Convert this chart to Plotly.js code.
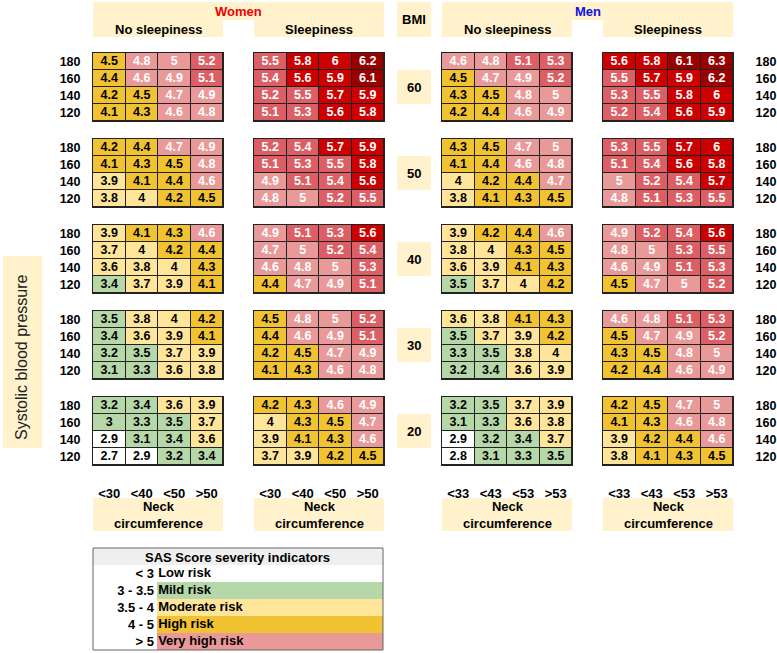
<!DOCTYPE html>
<html><head><meta charset="utf-8">
<script src="https://cdn.plot.ly/plotly-3.0.1.min.js"></script>
<style>html,body{margin:0;padding:0;background:#fff}#chart{width:777px;height:653px}</style>
</head><body><div id="chart"></div>
<script>
// ---------------- DATA ----------------
const bmiLevels = ['60','50','40','30','20'];
const sbpLevels = ['180','160','140','120'];          // rows, top to bottom
const neckWomen = ['<30','<40','<50','>50'];
const neckMen   = ['<33','<43','<53','>53'];

const womenNoSleepiness = [
 [[4.5,4.8,5,5.2],[4.4,4.6,4.9,5.1],[4.2,4.5,4.7,4.9],[4.1,4.3,4.6,4.8]],
 [[4.2,4.4,4.7,4.9],[4.1,4.3,4.5,4.8],[3.9,4.1,4.4,4.6],[3.8,4,4.2,4.5]],
 [[3.9,4.1,4.3,4.6],[3.7,4,4.2,4.4],[3.6,3.8,4,4.3],[3.4,3.7,3.9,4.1]],
 [[3.5,3.8,4,4.2],[3.4,3.6,3.9,4.1],[3.2,3.5,3.7,3.9],[3.1,3.3,3.6,3.8]],
 [[3.2,3.4,3.6,3.9],[3,3.3,3.5,3.7],[2.9,3.1,3.4,3.6],[2.7,2.9,3.2,3.4]]
];
const womenSleepiness = [
 [[5.5,5.8,6,6.2],[5.4,5.6,5.9,6.1],[5.2,5.5,5.7,5.9],[5.1,5.3,5.6,5.8]],
 [[5.2,5.4,5.7,5.9],[5.1,5.3,5.5,5.8],[4.9,5.1,5.4,5.6],[4.8,5,5.2,5.5]],
 [[4.9,5.1,5.3,5.6],[4.7,5,5.2,5.4],[4.6,4.8,5,5.3],[4.4,4.7,4.9,5.1]],
 [[4.5,4.8,5,5.2],[4.4,4.6,4.9,5.1],[4.2,4.5,4.7,4.9],[4.1,4.3,4.6,4.8]],
 [[4.2,4.3,4.6,4.9],[4,4.3,4.5,4.7],[3.9,4.1,4.3,4.6],[3.7,3.9,4.2,4.5]]
];
const menNoSleepiness = [
 [[4.6,4.8,5.1,5.3],[4.5,4.7,4.9,5.2],[4.3,4.5,4.8,5],[4.2,4.4,4.6,4.9]],
 [[4.3,4.5,4.7,5],[4.1,4.4,4.6,4.8],[4,4.2,4.4,4.7],[3.8,4.1,4.3,4.5]],
 [[3.9,4.2,4.4,4.6],[3.8,4,4.3,4.5],[3.6,3.9,4.1,4.3],[3.5,3.7,4,4.2]],
 [[3.6,3.8,4.1,4.3],[3.5,3.7,3.9,4.2],[3.3,3.5,3.8,4],[3.2,3.4,3.6,3.9]],
 [[3.2,3.5,3.7,3.9],[3.1,3.3,3.6,3.8],[2.9,3.2,3.4,3.7],[2.8,3.1,3.3,3.5]]
];
const menSleepiness = [
 [[5.6,5.8,6.1,6.3],[5.5,5.7,5.9,6.2],[5.3,5.5,5.8,6],[5.2,5.4,5.6,5.9]],
 [[5.3,5.5,5.7,6],[5.1,5.4,5.6,5.8],[5,5.2,5.4,5.7],[4.8,5.1,5.3,5.5]],
 [[4.9,5.2,5.4,5.6],[4.8,5,5.3,5.5],[4.6,4.9,5.1,5.3],[4.5,4.7,5,5.2]],
 [[4.6,4.8,5.1,5.3],[4.5,4.7,4.9,5.2],[4.3,4.5,4.8,5],[4.2,4.4,4.6,4.9]],
 [[4.2,4.5,4.7,5],[4.1,4.3,4.6,4.8],[3.9,4.2,4.4,4.6],[3.8,4.1,4.3,4.5]]
];

const riskRanges = ['< 3','3 - 3.5','3.5 - 4','4 - 5','> 5'];
const riskNames  = ['Low risk','Mild risk','Moderate risk','High risk','Very high risk'];
const riskLegendLevels = [0,1,2,3,4];

// ---------------- STYLE ----------------
const levelBounds = [2.95, 3.55, 4.05, 4.55, 5.05, 5.55, 6.05];
const levelColors = ['#ffffff','#b6d7a8','#ffe599','#f1c232','#ea9999','#dd5f66','#cc0000','#990000'];
const levelText   = ['#000','#000','#000','#000','#fff','#fff','#fff','#fff'];
const FONT = 'Liberation Sans, Arial, sans-serif';
const CREAM = '#fff2cc';
const W = 777, H = 653;
const gx = p => p / W, gy = p => 1 - p / H;
const colLeft = [93, 254, 442, 603], colW = 130;
const blockTop0 = 53, blockStep = 86, blockH = 68;

function level(v){ let i = 0; levelBounds.forEach(b => { if (v >= b) i++; }); return i; }
const nL = levelColors.length;
const colorscale = [];
levelColors.forEach((c, i) => { colorscale.push([i / nL, c]); colorscale.push([(i + 1) / nL, c]); });

const groups = [
  {data: womenNoSleepiness, neck: neckWomen},
  {data: womenSleepiness,   neck: neckWomen},
  {data: menNoSleepiness,   neck: neckMen},
  {data: menSleepiness,     neck: neckMen}
];
const sbpUp = sbpLevels.slice().reverse();

const traces = [];
const layout = {
  width: W, height: H, margin: {l:0, r:0, t:0, b:0},
  paper_bgcolor: '#fff', plot_bgcolor: '#222',
  showlegend: false, hovermode: false,
  font: {family: FONT, color: '#000'},
  shapes: [], annotations: []
};

groups.forEach((g, c) => {
  const xa = 'x' + (c === 0 ? '' : c + 1);
  layout['xaxis' + (c === 0 ? '' : c + 1)] = {
    domain: [gx(colLeft[c]), gx(colLeft[c] + colW)],
    anchor: c < 3 ? 'y5' : 'y10',
    type: 'category', categoryorder: 'array', categoryarray: g.neck,
    range: [-0.5, 3.5], autorange: false, fixedrange: true,
    showline: true, mirror: 'all', linecolor: '#222', linewidth: 1,
    ticks: 'outside', ticklen: 16, tickcolor: 'rgba(0,0,0,0)',
    tickfont: {family: FONT, size: 13, weight: 'bold', color: '#000'},
    showgrid: false, zeroline: false
  };
  g.data.forEach((block, r) => {
    const yi = (c < 3 ? r + 1 : r + 6);
    const ya = 'y' + (yi === 1 ? '' : yi);
    const rowsUp = block.slice().reverse();
    traces.push({
      type: 'heatmap', xaxis: xa, yaxis: ya,
      x: g.neck, y: sbpUp,
      z: rowsUp.map(row => row.map(level)),
      colorscale: colorscale, zmin: -0.5, zmax: nL - 0.5, showscale: false,
      xgap: 1, ygap: 1, hoverinfo: 'skip'
    });
    const tx = [], ty = [], tt = [], tc = [];
    block.forEach((row, i) => row.forEach((v, j) => {
      tx.push(g.neck[j]); ty.push(sbpLevels[i]); tt.push(String(v)); tc.push(levelText[level(v)]);
    }));
    traces.push({
      type: 'scatter', mode: 'text', xaxis: xa, yaxis: ya,
      x: tx, y: ty, text: tt, hoverinfo: 'skip', cliponaxis: false,
      textfont: {family: FONT, size: 12.5, weight: 'bold', color: tc}
    });
  });
});

bmiLevels.forEach((b, r) => {
  const top = blockTop0 + r * blockStep;
  const common = {
    domain: [gy(top + blockH), gy(top)],
    type: 'category', categoryorder: 'array', categoryarray: sbpUp,
    range: [-0.5, 3.5], autorange: false, fixedrange: true,
    showline: true, mirror: 'all', linecolor: '#222', linewidth: 1,
    ticks: 'outside', tickcolor: 'rgba(0,0,0,0)',
    tickfont: {family: FONT, size: 12.5, weight: 'bold', color: '#000'},
    showgrid: false, zeroline: false
  };
  layout['yaxis' + (r === 0 ? '' : r + 1)] = Object.assign({}, common, {anchor: 'x', side: 'left', ticklen: 9});
  layout['yaxis' + (r + 6)] = Object.assign({}, common, {anchor: 'x4', side: 'right', ticklen: 19});
  const cy = top + blockH / 2;
  layout.shapes.push({type:'rect', xref:'paper', yref:'paper', x0:gx(397), x1:gx(431), y0:gy(cy+17), y1:gy(cy-17), fillcolor:CREAM, line:{width:0}, layer:'below'});
  layout.annotations.push({xref:'paper', yref:'paper', x:gx(414), y:gy(cy), xanchor:'center', yanchor:'middle',
    text:'<b>'+b+'</b>', showarrow:false, font:{size:13, color:'#000', family:FONT}});
});

// Legend (SAS score severity indicators)
layout.xaxis5 = {domain:[gx(157), gx(383)], anchor:'y11', range:[0,1], autorange:false, fixedrange:true,
  showticklabels:false, showgrid:false, zeroline:false, showline:false, ticks:''};
const riskUp = riskRanges.slice().reverse();
layout.yaxis11 = {domain:[gy(650), gy(565)], anchor:'x5', type:'category', categoryorder:'array', categoryarray: riskUp,
  range:[-0.5, 4.5], autorange:false, fixedrange:true, showgrid:false, zeroline:false, showline:false, ticks:'',
  ticklabelstandoff: 2, tickfont:{family:FONT, size:13, weight:'bold', color:'#000'}};
traces.push({type:'heatmap', xaxis:'x5', yaxis:'y11', x:[0,1], y: riskUp,
  z: riskLegendLevels.slice().reverse().map(l => [l]),
  colorscale: colorscale, zmin:-0.5, zmax:nL-0.5, showscale:false, hoverinfo:'skip'});
traces.push({type:'scatter', mode:'text', xaxis:'x5', yaxis:'y11', x: riskRanges.map(() => 0.005), y: riskRanges,
  text: riskNames, textposition:'middle right', hoverinfo:'skip', cliponaxis:false,
  textfont:{family:FONT, size:13, weight:'bold', color:'#000'}});

// ---------------- DECORATION ----------------
function rect(x0, x1, y0, y1, fill, line){
  layout.shapes.push({type:'rect', xref:'paper', yref:'paper', x0:gx(x0), x1:gx(x1), y0:gy(y1), y1:gy(y0),
    fillcolor: fill, line: line || {width:0}, layer:'below'});
}
function label(x, y, text, size, color, extra){
  layout.annotations.push(Object.assign({xref:'paper', yref:'paper', x:gx(x), y:gy(y), xanchor:'center', yanchor:'middle',
    text:text, showarrow:false, font:{size:size, color:color || '#000', family:FONT}}, extra || {}));
}
[[0, 'Women', '#ee0000'], [2, 'Men', '#1010e0']].forEach(([c, name, col]) => {
  const a = colLeft[c], b = colLeft[c + 1];
  rect(a, a + colW, 2, 37, CREAM); rect(b, b + colW, 2, 37, CREAM); rect(a + colW, b, 2, 20, CREAM);
  label((a + b + colW) / 2, 12, '<b>' + name + '</b>', 13, col);
  label(a + colW / 2, 29, '<b>No sleepiness</b>', 13);
  label(b + colW / 2, 29, '<b>Sleepiness</b>', 13);
});
rect(397, 431, 2, 37, CREAM);
label(414, 19, '<b>BMI</b>', 13);
colLeft.forEach(x => {
  rect(x, x + colW, 498, 531, CREAM);
  label(x + colW / 2, 515, '<b>Neck<br>circumference</b>', 13);
});
rect(3, 42, 256, 448, CREAM);
label(22, 357, 'Systolic blood pressure', 16, '#222', {textangle: -90});
rect(93, 383, 548, 565, '#efefef');
layout.shapes.push({type:'rect', xref:'paper', yref:'paper', x0:gx(93), x1:gx(383), y0:gy(650), y1:gy(548),
  fillcolor:'rgba(0,0,0,0)', line:{color:'#666', width:1}, layer:'above'});
label(238, 557, '<b>SAS Score severity indicators</b>', 13);

Plotly.newPlot('chart', traces, layout, {displayModeBar:false, staticPlot:true});
</script></body></html>
